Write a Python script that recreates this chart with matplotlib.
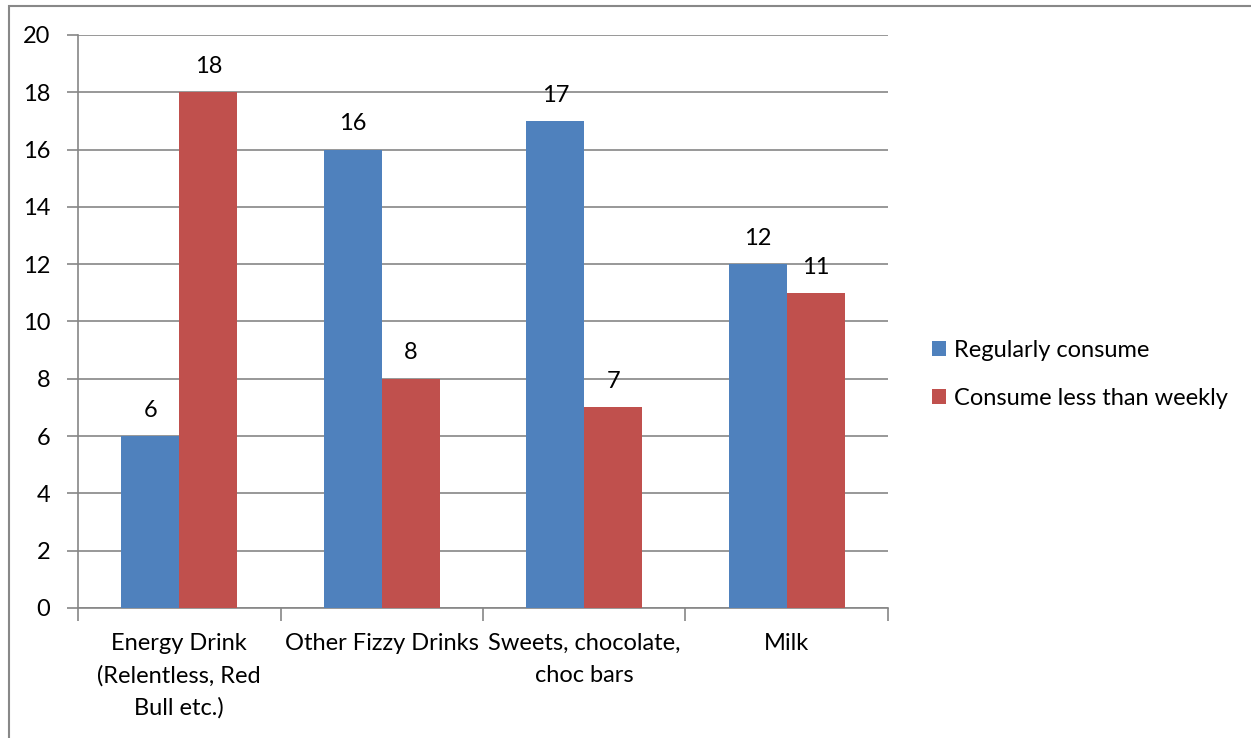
import numpy as np
import matplotlib
matplotlib.use("Agg")
from matplotlib import pyplot as plt
from matplotlib.patches import Rectangle

plt.rcParams["font.family"] = ["Lato", "DejaVu Sans"]

categories = ["Energy Drink\n(Relentless, Red\nBull etc.)", "Other Fizzy Drinks",
              "Sweets, chocolate,\nchoc bars", "Milk"]
regular = [6, 16, 17, 12]
less_weekly = [18, 8, 7, 11]
series_names = ["Regularly consume", "Consume less than weekly"]
colors = ["#4F81BD", "#C0504D"]

fig = plt.figure(figsize=(12.51, 7.38), dpi=100)
ax = fig.add_axes([0.0624, 0.1762, 0.6474, 0.7764])

# outer chart border
fig.patches.append(Rectangle((9 / 1251, -0.01), 1.1, (738 - 6) / 738 + 0.01,
                             transform=fig.transFigure, fill=False,
                             edgecolor="#888888", linewidth=1.5))

x = np.arange(len(categories))
w = 0.286
b1 = ax.bar(x - w / 2, regular, w, color=colors[0], label=series_names[0], zorder=3)
b2 = ax.bar(x + w / 2, less_weekly, w, color=colors[1], label=series_names[1], zorder=3)

for bars in (b1, b2):
    for r in bars:
        ax.text(r.get_x() + r.get_width() / 2, r.get_height() + 0.9, "%d" % r.get_height(),
                ha="center", va="center", fontsize=17)

ax.set_xlim(-0.5, 3.5)
ax.set_ylim(0, 20)
ax.set_yticks(range(0, 21, 2))
ax.grid(axis="y", color="#868686", linewidth=1.2, zorder=0)

ax.set_xticks(np.arange(-0.5, 4, 1))
ax.set_xticklabels([])
ax.set_xticks(x, minor=True)
ax.set_xticklabels(categories, minor=True, fontsize=17, linespacing=1.62, va="top")
ax.tick_params(axis="x", which="minor", length=0, pad=18)
ax.tick_params(axis="x", which="major", length=9, width=1.2, color="#868686")
ax.tick_params(axis="y", length=8, width=1.2, color="#868686", labelsize=17, pad=12)

for s in ["top", "right"]:
    ax.spines[s].set_visible(False)
for s in ["left", "bottom"]:
    ax.spines[s].set_color("#868686")
    ax.spines[s].set_linewidth(1.2)

fig.legend(handles=[b1, b2], labels=series_names, loc="center left",
           bbox_to_anchor=(0.728, 0.4925), frameon=False, fontsize=17,
           handlelength=0.6, handleheight=0.6, handletextpad=0.35, labelspacing=1.12)

fig.savefig("out.png", dpi=100)
